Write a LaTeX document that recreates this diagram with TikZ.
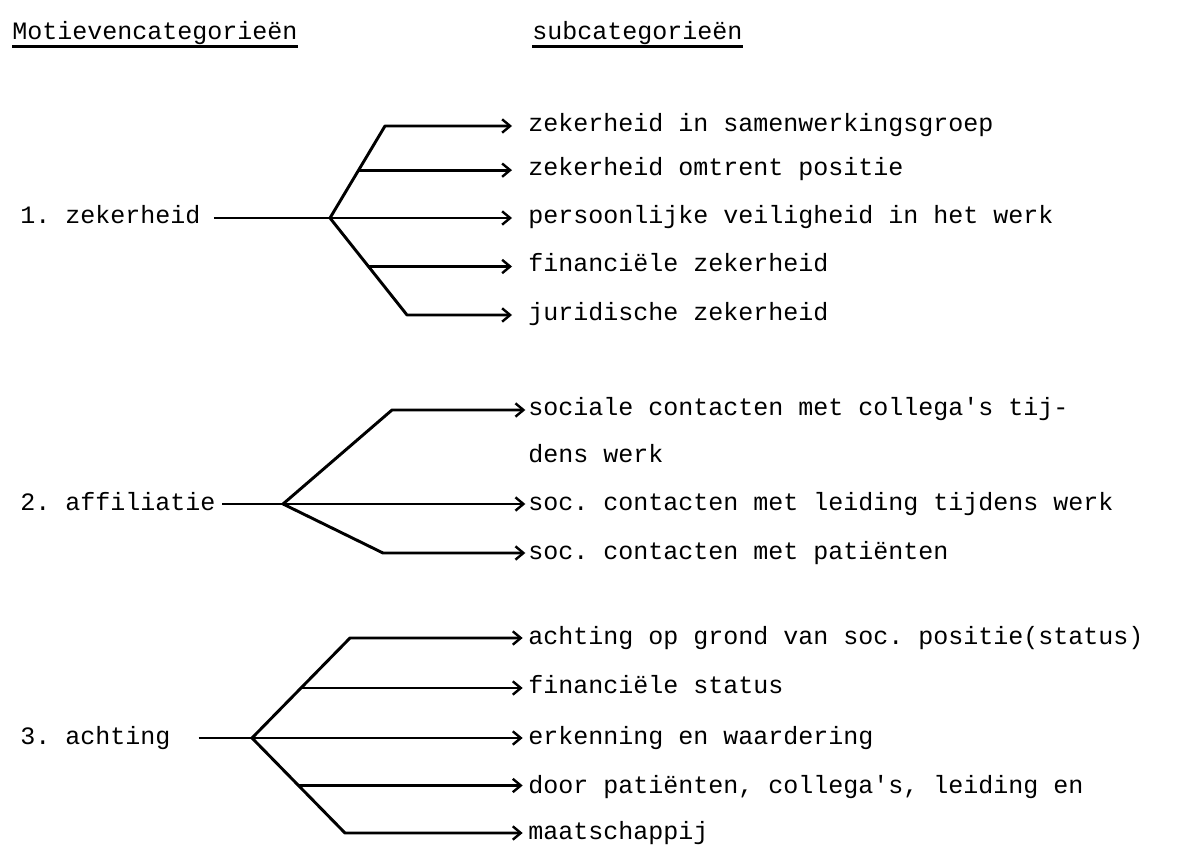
\documentclass[tikz,border=0pt]{standalone}
\usepackage{fontspec}
\setmonofont{Liberation Mono}
\usetikzlibrary{arrows.meta,calc}
\tikzset{
  tekst/.style={anchor=base west, inner sep=0pt, font=\ttfamily\fontsize{18.75}{20}\selectfont},
  tak/.style={line width=2.2pt, line join=round},
  pijl/.style={tak, -{Straight Barb[length=6pt,width=10pt,line width=1.8pt]}},
}
\begin{document}
\begin{tikzpicture}[x=0.75pt, y=-0.75pt]
    \useasboundingbox (0,0) rectangle (1182,855);
    % Kopjes
    \node[tekst] (kop1) at (12,40) {Motievencategorieën};
    \node[tekst] (kop2) at (532,40) {subcategorieën};
    \draw[line width=1.8pt] ([yshift=-5pt]kop1.base west) -- ([yshift=-5pt]kop1.base east);
    \draw[line width=1.8pt] ([yshift=-5pt]kop2.base west) -- ([yshift=-5pt]kop2.base east);

    % 1. zekerheid
    \node[tekst] (m1) at (20,224) {1. zekerheid};
    \foreach \n/\y/\t in {1/126/zekerheid in samenwerkingsgroep, 2/170/zekerheid omtrent positie,
        3/218/persoonlijke veiligheid in het werk, 4/266/financiële zekerheid, 5/315/juridische zekerheid} {
        \node[tekst] (s1\n) at (528,\y+6) {\t};
    }
    \coordinate (j1) at (330,218);
    \coordinate (b1t) at (385,126);
    \coordinate (b1b) at (407,315);
    \coordinate (b1m) at ($(j1)!.52!(b1t)$);
    \coordinate (b1n) at ($(j1)!.5!(b1b)$);
    \draw[tak, shorten <=10pt] (m1.east |- j1) -- (j1);
    \draw[pijl, shorten >=12pt] (j1) -- (b1t) -- (b1t -| s11.west);
    \draw[pijl, shorten >=12pt] (b1m) -- (b1m -| s12.west);
    \draw[pijl, shorten >=12pt] (j1) -- (j1 -| s13.west);
    \draw[pijl, shorten >=12pt] (b1n) -- (b1n -| s14.west);
    \draw[pijl, shorten >=12pt] (j1) -- (b1b) -- (b1b -| s15.west);

    % 2. affiliatie
    \node[tekst] (m2) at (20,510) {2. affiliatie};
    \foreach \n/\y/\t in {1/410/sociale contacten met collega's tij-, 2/457/dens werk,
        3/504/soc. contacten met leiding tijdens werk, 4/553/soc. contacten met patiënten} {
        \node[tekst] (s2\n) at (528,\y+6) {\t};
    }
    \coordinate (j2) at (283,504);
    \coordinate (b2t) at (392,410);
    \coordinate (b2b) at (383,553);
    \draw[tak, shorten <=5pt] (m2.east |- j2) -- (j2);
    \draw[pijl, shorten >=2pt] (j2) -- (b2t) -- (b2t -| s21.west);
    \draw[pijl, shorten >=2pt] (j2) -- (j2 -| s23.west);
    \draw[pijl, shorten >=2pt] (j2) -- (b2b) -- (b2b -| s24.west);

    % 3. achting
    \node[tekst] (m3) at (20,744) {3. achting};
    \foreach \n/\y/\t in {1/638/achting op grond van soc. positie(status), 2/687/financiële status,
        3/738/erkenning en waardering, 4/787/{door patiënten, collega's, leiding en}, 5/833/maatschappij} {
        \node[tekst] (s3\n) at (528,\y+6) {\t};
    }
    \coordinate (j3) at (252,738);
    \coordinate (b3t) at (350,638);
    \coordinate (b3b) at (345,833);
    \coordinate (b3m) at ($(j3)!.5!(b3t)$);
    \coordinate (b3n) at ($(j3)!.5!(b3b)$);
    \draw[tak, shorten <=21pt] (m3.east |- j3) -- (j3);
    \draw[pijl, shorten >=4pt] (j3) -- (b3t) -- (b3t -| s31.west);
    \draw[pijl, shorten >=4pt] (b3m) -- (b3m -| s32.west);
    \draw[pijl, shorten >=4pt] (j3) -- (j3 -| s33.west);
    \draw[pijl, shorten >=4pt] (b3n) -- (b3n -| s34.west);
    \draw[pijl, shorten >=4pt] (j3) -- (b3b) -- (b3b -| s35.west);
\end{tikzpicture}
\end{document}
